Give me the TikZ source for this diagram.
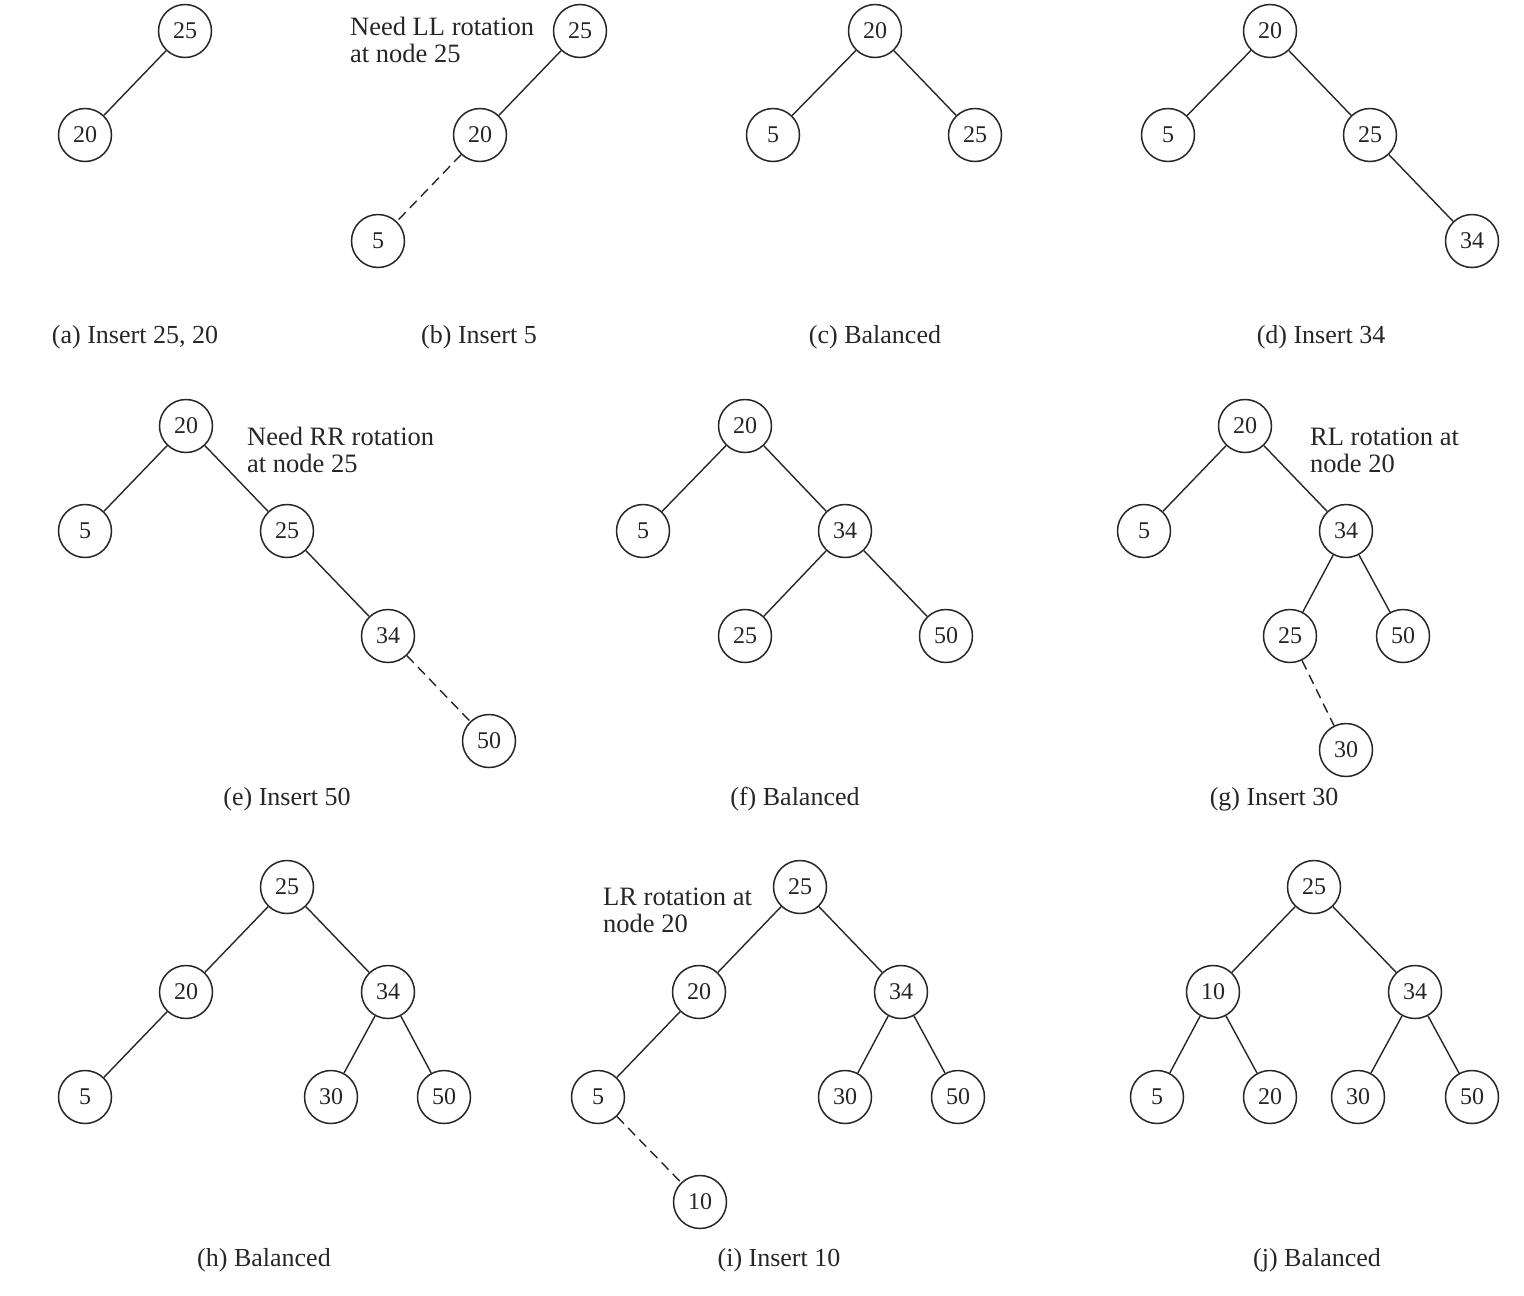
\documentclass[tikz,border=0pt]{standalone}
\usepackage{fontspec}
\setmainfont{Liberation Serif}
\begin{document}
\begin{tikzpicture}[x=1pt,y=-1pt,
  nd/.style={circle,draw=ink,line width=1.5pt,minimum size=53pt,inner sep=0pt,text=ink,font=\fontsize{24}{24}\selectfont},
  captxt/.style={anchor=base,text=ink,inner sep=0pt,font=\fontsize{26}{27}\selectfont},
  notetxt/.style={anchor=base west,align=left,text=ink,inner sep=0pt,font=\fontsize{26.5}{27}\selectfont},
  ln/.style={draw=ink,line width=1.4pt},
  dln/.style={draw=ink,line width=1.4pt,dash pattern=on 10pt off 6pt}]
\colorlet{ink}{black!85}
\useasboundingbox (0,0) rectangle (1524,1296);
% (a)
\node[nd] (a25) at (185,31) {25};
\node[nd] (a20) at (85,135) {20};
\draw[ln] (a25) -- (a20);
\node[captxt] (acap) at (135,343) {(a) Insert 25, 20};
% (b)
\node[nd] (b25) at (580,31) {25};
\node[nd] (b20) at (480,135) {20};
\node[nd] (b5) at (378,241) {5};
\draw[ln] (b25) -- (b20);
\draw[dln] (b20) -- (b5);
\node[notetxt] (bnote) at (350,62) {Need LL rotation\\at node 25};
\node[captxt] (bcap) at (479,343) {(b) Insert 5};
% (c)
\node[nd] (c20) at (875,31) {20};
\node[nd] (c5) at (773,135) {5};
\node[nd] (c25) at (975,135) {25};
\draw[ln] (c20) -- (c5);
\draw[ln] (c20) -- (c25);
\node[captxt] (ccap) at (875,343) {(c) Balanced};
% (d)
\node[nd] (d20) at (1270,31) {20};
\node[nd] (d5) at (1168,135) {5};
\node[nd] (d25) at (1370,135) {25};
\node[nd] (d34) at (1472,241) {34};
\draw[ln] (d20) -- (d5);
\draw[ln] (d20) -- (d25);
\draw[ln] (d25) -- (d34);
\node[captxt] (dcap) at (1321,343) {(d) Insert 34};
% (e)
\node[nd] (e20) at (186,426) {20};
\node[nd] (e5) at (85,531) {5};
\node[nd] (e25) at (287,531) {25};
\node[nd] (e34) at (388,636) {34};
\node[nd] (e50) at (489,741) {50};
\draw[ln] (e20) -- (e5);
\draw[ln] (e20) -- (e25);
\draw[ln] (e25) -- (e34);
\draw[dln] (e34) -- (e50);
\node[notetxt] (enote) at (247,472) {Need RR rotation\\at node 25};
\node[captxt] (ecap) at (287,805) {(e) Insert 50};
% (f)
\node[nd] (f20) at (745,426) {20};
\node[nd] (f5) at (643,531) {5};
\node[nd] (f34) at (845,531) {34};
\node[nd] (f25) at (745,636) {25};
\node[nd] (f50) at (946,636) {50};
\draw[ln] (f20) -- (f5);
\draw[ln] (f20) -- (f34);
\draw[ln] (f34) -- (f25);
\draw[ln] (f34) -- (f50);
\node[captxt] (fcap) at (795,805) {(f) Balanced};
% (g)
\node[nd] (g20) at (1245,426) {20};
\node[nd] (g5) at (1144,531) {5};
\node[nd] (g34) at (1346,531) {34};
\node[nd] (g25) at (1290,636) {25};
\node[nd] (g50) at (1403,636) {50};
\node[nd] (g30) at (1346,750) {30};
\draw[ln] (g20) -- (g5);
\draw[ln] (g20) -- (g34);
\draw[ln] (g34) -- (g25);
\draw[ln] (g34) -- (g50);
\draw[dln] (g25) -- (g30);
\node[notetxt] (gnote) at (1310,472) {RL rotation at\\node 20};
\node[captxt] (gcap) at (1274,805) {(g) Insert 30};
% (h)
\node[nd] (h25) at (287,887) {25};
\node[nd] (h20) at (186,992) {20};
\node[nd] (h34) at (388,992) {34};
\node[nd] (h5) at (85,1097) {5};
\node[nd] (h30) at (331,1097) {30};
\node[nd] (h50) at (444,1097) {50};
\draw[ln] (h25) -- (h20);
\draw[ln] (h25) -- (h34);
\draw[ln] (h20) -- (h5);
\draw[ln] (h34) -- (h30);
\draw[ln] (h34) -- (h50);
\node[captxt] (hcap) at (264,1266) {(h) Balanced};
% (i)
\node[nd] (i25) at (800,887) {25};
\node[nd] (i20) at (699,992) {20};
\node[nd] (i34) at (901,992) {34};
\node[nd] (i5) at (598,1097) {5};
\node[nd] (i30) at (845,1097) {30};
\node[nd] (i50) at (958,1097) {50};
\node[nd] (i10) at (700,1202) {10};
\draw[ln] (i25) -- (i20);
\draw[ln] (i25) -- (i34);
\draw[ln] (i20) -- (i5);
\draw[ln] (i34) -- (i30);
\draw[ln] (i34) -- (i50);
\draw[dln] (i5) -- (i10);
\node[notetxt] (inote) at (603,932) {LR rotation at\\node 20};
\node[captxt] (icap) at (779,1266) {(i) Insert 10};
% (j)
\node[nd] (j25) at (1314,887) {25};
\node[nd] (j10) at (1213,992) {10};
\node[nd] (j34) at (1415,992) {34};
\node[nd] (j5) at (1157,1097) {5};
\node[nd] (j20) at (1270,1097) {20};
\node[nd] (j30) at (1358,1097) {30};
\node[nd] (j50) at (1472,1097) {50};
\draw[ln] (j25) -- (j10);
\draw[ln] (j25) -- (j34);
\draw[ln] (j10) -- (j5);
\draw[ln] (j10) -- (j20);
\draw[ln] (j34) -- (j30);
\draw[ln] (j34) -- (j50);
\node[captxt] (jcap) at (1317,1266) {(j) Balanced};
\end{tikzpicture}
\end{document}
